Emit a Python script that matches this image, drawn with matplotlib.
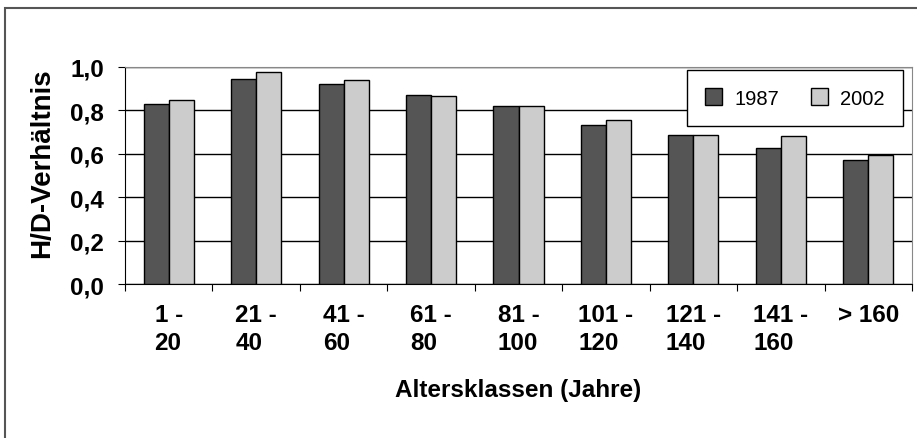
import matplotlib.pyplot as plt
import matplotlib.patches as patches
import numpy as np

plt.rcParams['font.family'] = ['Liberation Sans', 'DejaVu Sans']

categories = ['1 -\n20', '21 -\n40', '41 -\n60', '61 -\n80', '81 -\n100',
              '101 -\n120', '121 -\n140', '141 -\n160', '> 160']
values_1987 = [0.83, 0.945, 0.92, 0.87, 0.82, 0.735, 0.685, 0.625, 0.57]
values_2002 = [0.85, 0.975, 0.94, 0.865, 0.82, 0.757, 0.685, 0.68, 0.595]
series_labels = ['1987', '2002']

fig = plt.figure(figsize=(9.17, 4.39), dpi=100)
ax = fig.add_axes([125 / 917, 1 - 285 / 439, 787 / 917, 217 / 439])

x = np.arange(len(categories))
w = 0.286
ax.bar(x - w / 2, values_1987, w, color='#555555', edgecolor='black', linewidth=1, label=series_labels[0], zorder=3)
ax.bar(x + w / 2, values_2002, w, color='#cccccc', edgecolor='black', linewidth=1, label=series_labels[1], zorder=3)

ax.set_xlim(-0.5, len(categories) - 0.5)
ax.set_ylim(0, 1.0)
yt = np.arange(0, 1.01, 0.2)
ax.set_yticks(yt)
ax.set_yticklabels([f'{v:.1f}'.replace('.', ',') for v in yt], fontsize=17.5, fontweight='bold')
ax.yaxis.grid(True, color='black', linewidth=1, zorder=0)
ax.set_axisbelow(True)

ax.set_xticks(np.arange(len(categories) + 1) - 0.5)
ax.set_xticklabels([])
ax.set_xticks(x, minor=True)
ax.set_xticklabels(categories, minor=True, fontsize=17.5, fontweight='bold',
                   multialignment='left', linespacing=1.25)
ax.tick_params(axis='x', which='minor', length=0, pad=14)
ax.tick_params(axis='x', which='major', length=5, direction='out', color='black')
ax.tick_params(axis='y', length=5, direction='out', pad=10)

ax.spines['top'].set_color('#888888')
ax.spines['right'].set_color('#888888')
ax.spines['left'].set_color('black')
ax.spines['bottom'].set_color('black')

ax.set_xlabel('Altersklassen (Jahre)', fontsize=17.5, fontweight='bold', labelpad=17)
fig.text(42 / 917, 1 - 163 / 439, 'H/D-Verhältnis', rotation=90, fontsize=20,
         fontweight='bold', ha='center', va='center')

leg = ax.legend(ncol=2, loc='upper right', bbox_to_anchor=(903 / 917, 1 - 71 / 439),
                bbox_transform=fig.transFigure, fontsize=14.5, frameon=True, fancybox=False,
                edgecolor='black', framealpha=1, handlelength=0.85, handleheight=0.95,
                columnspacing=1.6, borderpad=0.9, handletextpad=0.6, borderaxespad=0)
leg.get_frame().set_linewidth(1)
leg.set_zorder(5)

fig.patches.append(patches.Rectangle((5 / 917, -0.1), 2, 1 - 9 / 439 + 0.1,
                                     transform=fig.transFigure, fill=False,
                                     edgecolor='#555555', linewidth=1.5))

fig.savefig('out.png', dpi=100)
